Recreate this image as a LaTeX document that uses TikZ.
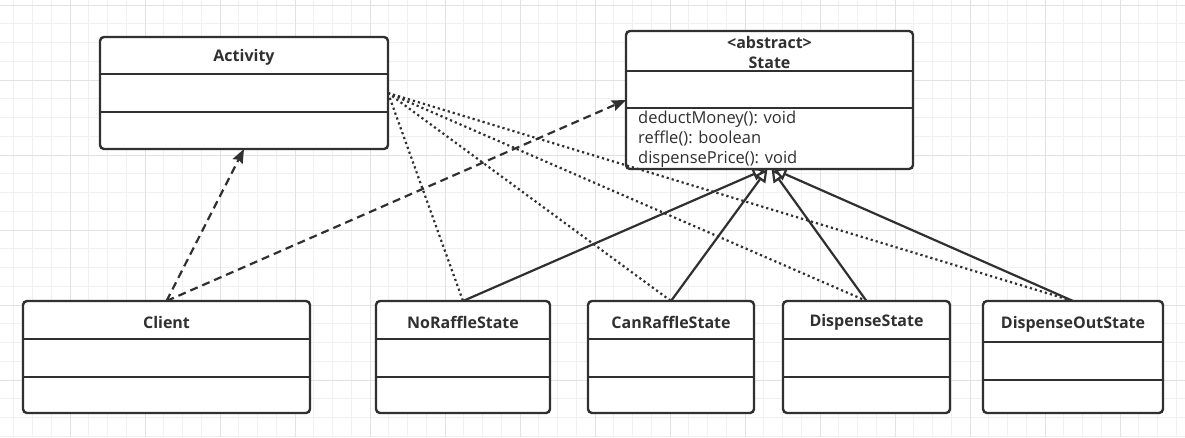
\documentclass[tikz,border=0pt]{standalone}
\usepackage{fontspec}
\setmainfont{Open Sans}
\usetikzlibrary{arrows.meta,calc}
\definecolor{ink}{HTML}{303030}
\definecolor{gminor}{HTML}{F0F0F0}
\definecolor{gmajor}{HTML}{E2E2E2}
\begin{document}
\begin{tikzpicture}[x=1pt,y=-1pt,
 umlbox/.style={draw=ink, line width=2.4pt, rounded corners=4pt, fill=white, inner sep=0pt, outer sep=0pt, anchor=north west},
 ttl/.style={font=\fontsize{16}{20}\selectfont\bfseries, text=ink, inner sep=0pt, align=center},
 mth/.style={font=\fontsize{16.5}{20}\selectfont, text=ink, inner sep=0pt, align=left, anchor=west},
 divl/.style={draw=ink, line width=2.4pt},
 dep/.style={draw=ink, line width=2.2pt, dash pattern=on 8pt off 5pt, -{Stealth[length=14pt,width=11pt,inset=2pt]}},
 assoc/.style={draw=ink, line width=2.2pt, dash pattern=on 2.2pt off 3pt},
 inh/.style={draw=ink, line width=2.2pt, -{Triangle[open,length=13pt,width=13pt,fill=white]}}
]
\useasboundingbox (0,0) rectangle (1185,437);
\fill[white] (0,0) rectangle (1185,437);
% grid
\foreach \i in {0,...,64} { \draw[gminor, line width=1pt] ({-5+18.75*\i},0) -- ({-5+18.75*\i},437); }
\foreach \j in {0,...,23} { \draw[gminor, line width=1pt] (0,{5+18.75*\j}) -- (1185,{5+18.75*\j}); }
\foreach \i in {1,...,16} { \draw[gmajor, line width=1pt] ({-5+75*\i},0) -- ({-5+75*\i},437); }
\foreach \j in {0,...,5} { \draw[gmajor, line width=1pt] (0,{5+75*\j}) -- (1185,{5+75*\j}); }

% boxes
\node[umlbox, minimum width=288pt, minimum height=112pt] (activity) at (100,37) {};
\node[umlbox, minimum width=287pt, minimum height=138pt] (state) at (626,31) {};
\node[umlbox, minimum width=287pt, minimum height=112pt] (client) at (23,301) {};
\node[umlbox, minimum width=174pt, minimum height=112pt] (noraffle) at (376,301) {};
\node[umlbox, minimum width=166pt, minimum height=112pt] (canraffle) at (588,301) {};
\node[umlbox, minimum width=167pt, minimum height=112pt] (dispense) at (783,301) {};
\node[umlbox, minimum width=180pt, minimum height=112pt] (dispenseout) at (983,301) {};

% dividers
\draw[divl] (activity.west |- 0,74) -- (activity.east |- 0,74);
\draw[divl] (activity.west |- 0,112) -- (activity.east |- 0,112);
\draw[divl] (state.west |- 0,71) -- (state.east |- 0,71);
\draw[divl] (state.west |- 0,108) -- (state.east |- 0,108);
\foreach \b in {client,noraffle,canraffle,dispense} {
  \draw[divl] (\b.west |- 0,339) -- (\b.east |- 0,339);
  \draw[divl] (\b.west |- 0,377) -- (\b.east |- 0,377);
}
\draw[divl] (dispenseout.west |- 0,342) -- (dispenseout.east |- 0,342);
\draw[divl] (dispenseout.west |- 0,380) -- (dispenseout.east |- 0,380);

% titles
\node[ttl] (activityT) at ($(activity.north)+(0,20.5)$) {Activity};
\node[ttl] (stateT) at ($(state.north)+(0,21)$) {\textless abstract\textgreater\\State};
\node[mth] (stateM) at (638,139) {deductMoney(): void\\reffle(): boolean\\dispensePrice(): void};
\node[ttl] (clientT) at ($(client.north)+(0,21.5)$) {Client};
\node[ttl] (noraffleT) at ($(noraffle.north)+(0,21.5)$) {NoRaffleState};
\node[ttl] (canraffleT) at ($(canraffle.north)+(0,21.5)$) {CanRaffleState};
\node[ttl] (dispenseT) at ($(dispense.north)+(0,21.5)$) {DispenseState};
\node[ttl] (dispenseoutT) at ($(dispenseout.north)+(0,23)$) {DispenseOutState};

% connectors
\draw[dep] (client.north) -- (activity.south);
\draw[dep] (client.north) -- (state.west);
\draw[assoc] (activity.east) -- (noraffle.north);
\draw[assoc] (activity.east) -- (canraffle.north);
\draw[assoc] (activity.east) -- (dispense.north);
\draw[assoc] (activity.east) -- (dispenseout.north);
\draw[inh] (noraffle.north) -- ($(state.south)+(-4,0)$);
\draw[inh] (canraffle.north) -- ($(state.south)+(-2,0)$);
\draw[inh] (dispense.north) -- ($(state.south)+(2,0)$);
\draw[inh] (dispenseout.north) -- ($(state.south)+(4,0)$);
\end{tikzpicture}
\end{document}
